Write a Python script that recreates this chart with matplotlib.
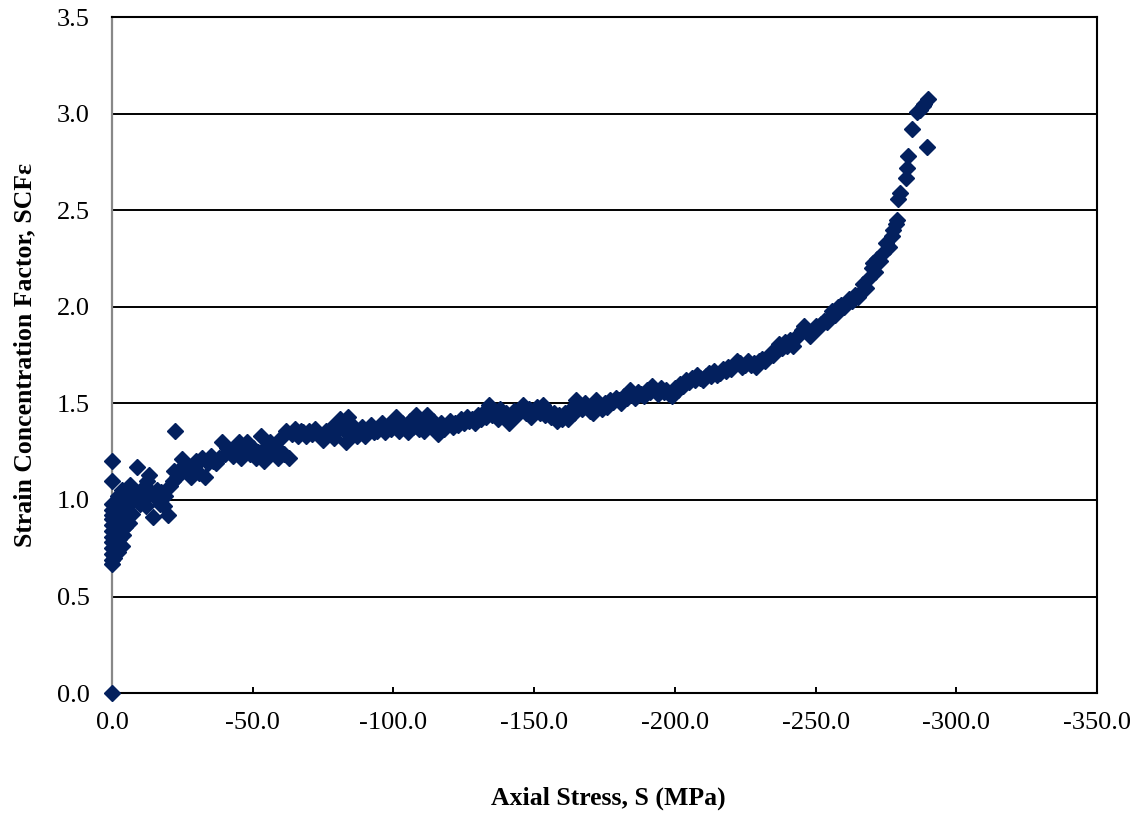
import matplotlib
matplotlib.use("Agg")
import matplotlib.pyplot as plt
from matplotlib.ticker import FuncFormatter, MultipleLocator

# Axial stress (MPa) and strain concentration factor
stress_a = [0, 0, 0, 0, 0, 0, 0, 0, 0, 0, 0, 0, 0, 0, 0]
scf_a = [0.00, 0.67, 0.69, 0.72, 0.75, 0.78, 0.81, 0.84, 0.87, 0.90, 0.92, 0.95, 0.98, 1.10, 1.20]

stress_b = [-0.8, -1.0, -1.2, -1.5, -1.5, -2.0, -2.2, -2.5, -3.0, -3.0, -3.3, -3.5, -3.6, -4.0,
            -4.5, -4.6, -5.0, -5.5, -5.7, -6.0, -6.5, -7.0, -7.5, -8.0]
scf_b = [0.70, 0.76, 0.82, 0.88, 0.96, 1.02, 0.73, 0.80, 0.86, 0.93, 1.00, 1.05, 0.76, 0.82,
         0.90, 0.86, 0.97, 1.02, 0.95, 0.88, 1.08, 0.93, 1.00, 1.04]

stress_c = [-9, -9.5, -10, -11, -11.5, -12, -12.5, -13, -14, -14.5, -15, -16, -17, -17.5, -18.5,
            -19, -20, -20.5, -21.5, -22, -22.5, -23, -24, -25, -26, -27, -28, -29, -30]
scf_c = [1.17, 1.03, 0.98, 1.06, 1.00, 0.97, 1.10, 1.13, 1.04, 0.91, 1.02, 1.05, 0.98, 1.04, 0.97,
         1.02, 0.92, 1.07, 1.10, 1.15, 1.36, 1.12, 1.16, 1.21, 1.18, 1.14, 1.12, 1.17, 1.20]

stress_d = [-31, -32, -33, -34, -35, -36, -37, -38, -39, -40, -41, -42, -43, -44, -45, -46, -47,
            -48, -49, -50, -51, -52, -53, -54, -55, -56, -57, -58, -59, -60, -61, -62, -63, -64,
            -65, -66, -67, -68, -69, -70]
scf_d = [1.14, 1.22, 1.12, 1.19, 1.23, 1.20, 1.19, 1.22, 1.30, 1.24, 1.27, 1.25, 1.23, 1.28, 1.30,
         1.22, 1.26, 1.30, 1.24, 1.27, 1.22, 1.25, 1.33, 1.20, 1.28, 1.30, 1.25, 1.28, 1.22, 1.32,
         1.24, 1.36, 1.22, 1.34, 1.37, 1.33, 1.36, 1.35, 1.33, 1.36]

stress_e = [-71, -72, -73, -74, -75, -76, -77, -78, -79, -80, -81, -82, -83, -84, -85, -86, -87,
            -88, -89, -90, -91, -92, -93, -94, -95, -96, -97, -98, -99, -100, -101, -102, -103,
            -104, -105, -106, -107, -108, -109, -110, -111, -112, -113, -114, -115, -116, -117,
            -118, -119, -120, -121, -122, -123, -124, -125, -126, -127, -128, -129, -130, -131,
            -132, -133, -134, -135, -136, -137, -138, -139, -140, -141, -142, -143, -144, -145,
            -146, -147, -148, -149, -150, -151, -152, -153, -154, -155, -156, -157, -158, -159, -160]
scf_e = [1.34, 1.37, 1.35, 1.33, 1.31, 1.36, 1.35, 1.38, 1.32, 1.36, 1.42, 1.37, 1.30, 1.43, 1.35,
         1.38, 1.33, 1.36, 1.38, 1.33, 1.37, 1.39, 1.35, 1.36, 1.38, 1.40, 1.35, 1.39, 1.37, 1.41,
         1.43, 1.36, 1.40, 1.38, 1.35, 1.41, 1.38, 1.44, 1.37, 1.40, 1.36, 1.44, 1.39, 1.41, 1.38,
         1.34, 1.40, 1.37, 1.39, 1.41, 1.38, 1.40, 1.39, 1.42, 1.40, 1.43, 1.41, 1.42, 1.40, 1.44,
         1.42, 1.45, 1.43, 1.49, 1.44, 1.46, 1.42, 1.47, 1.44, 1.45, 1.40, 1.43, 1.46, 1.44, 1.47,
         1.49, 1.45, 1.47, 1.43, 1.46, 1.48, 1.45, 1.49, 1.44, 1.46, 1.43, 1.45, 1.41, 1.44, 1.42]

stress_f = [-161, -162, -163, -164, -165, -166, -167, -168, -169, -170, -171, -172, -173, -174,
            -175, -176, -177, -178, -179, -180, -181, -182, -183, -184, -185, -186, -187, -188,
            -189, -190, -191, -192, -193, -194, -195, -196, -197, -198, -199, -200, -201, -202,
            -203, -204, -205, -206, -207, -208, -209, -210, -211, -212, -213, -214, -215, -216,
            -217, -218, -219, -220, -221, -222, -223, -224, -225, -226, -227, -228, -229, -230]
scf_f = [1.45, 1.42, 1.47, 1.45, 1.52, 1.49, 1.47, 1.50, 1.48, 1.46, 1.45, 1.52, 1.48, 1.47,
         1.50, 1.48, 1.52, 1.51, 1.53, 1.52, 1.50, 1.54, 1.53, 1.57, 1.55, 1.53, 1.56, 1.55,
         1.54, 1.57, 1.56, 1.59, 1.57, 1.55, 1.58, 1.56, 1.57, 1.55, 1.54, 1.58, 1.57, 1.60,
         1.59, 1.62, 1.61, 1.63, 1.62, 1.65, 1.63, 1.62, 1.64, 1.66, 1.64, 1.67, 1.65, 1.66,
         1.68, 1.67, 1.69, 1.68, 1.70, 1.72, 1.71, 1.69, 1.70, 1.72, 1.70, 1.71, 1.69, 1.72]

stress_g = [-231, -232, -233, -234, -235, -236, -237, -238, -239, -240, -241, -242, -243, -244,
            -245, -246, -247, -248, -249, -250, -251, -252, -253, -254, -255, -256, -257, -258,
            -259, -260, -261, -262, -263, -264, -265, -266, -267, -268, -269, -270]
scf_g = [1.73, 1.72, 1.74, 1.76, 1.75, 1.78, 1.81, 1.79, 1.82, 1.80, 1.83, 1.80, 1.84, 1.86,
         1.88, 1.90, 1.87, 1.85, 1.88, 1.90, 1.89, 1.91, 1.93, 1.92, 1.95, 1.98, 1.96, 2.00,
         2.01, 2.00, 2.02, 2.04, 2.03, 2.06, 2.05, 2.08, 2.12, 2.10, 2.15, 2.20]

stress_h = [-270.5, -271, -272, -273, -274, -275, -276, -277, -277.6, -278.5, -279, -279.4, -280,
            -282, -282.6, -283, -284.3, -286, -287, -288, -288.5, -289.6, -290]
scf_h = [2.23, 2.18, 2.25, 2.24, 2.28, 2.33, 2.31, 2.37, 2.40, 2.43, 2.45, 2.56, 2.59,
         2.67, 2.72, 2.78, 2.92, 3.01, 3.02, 3.04, 3.05, 2.83, 3.08]

stress = stress_a + stress_b + stress_c + stress_d + stress_e + stress_f + stress_g + stress_h
scf = scf_a + scf_b + scf_c + scf_d + scf_e + scf_f + scf_g + scf_h

plt.rcParams['font.family'] = ['Liberation Serif', 'DejaVu Serif']

fig = plt.figure(figsize=(11.42, 8.25), dpi=100)
ax = fig.add_axes([112 / 1142, 1 - 693 / 825, 985 / 1142, 675.5 / 825])

ax.plot(stress, scf, linestyle='none', marker='D', markersize=8.2,
        color='#03205e', markeredgecolor='#03205e', markeredgewidth=1.0,
        zorder=3, clip_on=False)

ax.set_xlim(0, -350)
ax.set_ylim(0, 3.5)
ax.xaxis.set_major_locator(MultipleLocator(50))
ax.yaxis.set_major_locator(MultipleLocator(0.5))

fmt = FuncFormatter(lambda v, p: f"{abs(v) if abs(v) < 1e-9 else v:.1f}")
ax.xaxis.set_major_formatter(fmt)
ax.yaxis.set_major_formatter(fmt)

ax.grid(axis='y', color='black', linewidth=1.4)
ax.set_axisbelow(True)

for side in ['top', 'right', 'bottom']:
    ax.spines[side].set_color('black')
    ax.spines[side].set_linewidth(1.5)
ax.spines['left'].set_color('#888888')
ax.spines['left'].set_linewidth(1.6)

ax.tick_params(axis='x', direction='in', length=4, width=1.4, pad=13.5, labelsize=19)
ax.tick_params(axis='y', length=0, pad=16, labelsize=19)

ax.set_xlabel('Axial Stress, S (MPa)', fontsize=18.5, fontweight='bold')
ax.set_ylabel('Strain Concentration Factor, SCFε', fontsize=18.5, fontweight='bold')
ax.xaxis.set_label_coords(0.5043, -0.139)
ax.yaxis.set_label_coords(-0.077, 0.5)

fig.savefig('out.png', dpi=100, facecolor='white')
